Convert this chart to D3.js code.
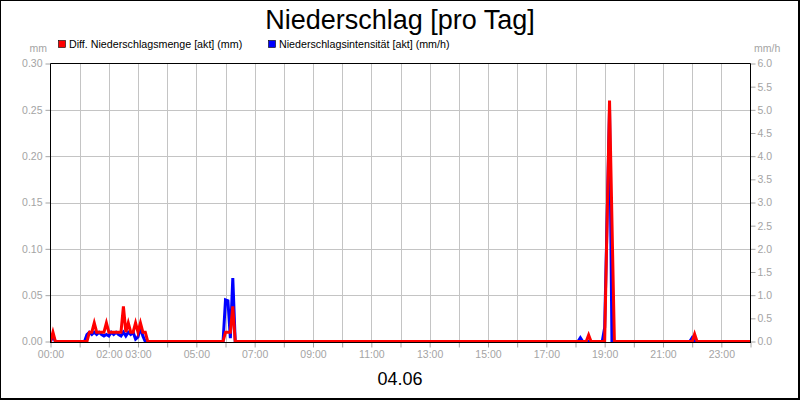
<!DOCTYPE html>
<html>
<head>
<meta charset="utf-8">
<script src="https://cdn.jsdelivr.net/npm/d3@7"></script>
<style>
  body { margin: 0; background: #fff; }
  svg { display: block; font-family: "Liberation Sans", Arial, sans-serif; }
</style>
</head>
<body>
<svg id="chart" width="800" height="400"></svg>
<script>
// ---- data ----
const title = "Niederschlag [pro Tag]";
const dateLabel = "04.06";
const seriesNames = ["Diff. Niederschlagsmenge [akt] (mm)", "Niederschlagsintensität [akt] (mm/h)"];

const rainTimes = ["00:00","00:05","00:10","01:15","01:20","01:25","01:30","01:35","01:40","01:45","01:50","01:55",
  "02:00","02:05","02:10","02:15","02:20","02:25","02:30","02:35","02:40","02:45","02:50","02:55",
  "03:00","03:05","03:10","03:15","03:20","05:55","06:00","06:05","06:10","06:15","06:20",
  "18:22","18:27","18:32","19:00","19:10","19:20","22:00","22:05","22:10","24:00"];
const rainValues = [0,0.01,0,0,0.01,0.01,0.02,0.01,0.01,0.01,0.01,0.02,
  0.01,0.01,0.01,0.01,0.01,0.01,0.038,0.01,0.02,0.01,0.01,0.02,
  0.01,0.02,0.01,0.01,0,0,0.01,0.01,0.01,0.038,0,
  0,0.007,0,0,0.26,0,0,0.008,0,0];

const intensTimes = ["00:00","00:05","00:10","01:10","01:15","01:20","01:25","01:30","01:35","01:40","01:45","01:50","01:55",
  "02:00","02:05","02:10","02:15","02:20","02:25","02:30","02:35","02:40","02:45","02:50","02:55",
  "03:00","03:05","03:10","03:15","05:55","06:00","06:05","06:10","06:15","06:20",
  "18:05","18:10","18:15","18:55","19:00","19:10","19:15","21:55","22:00","22:05","24:00"];
const intensValues = [0,0.12,0,0,0.15,0.2,0.15,0.2,0.15,0.2,0.15,0.12,0.15,
  0.12,0.2,0.15,0.2,0.15,0.12,0.2,0.12,0.2,0.15,0.2,0.05,
  0.1,0.3,0.12,0,0,0.9,0.88,0.07,1.37,0,
  0,0.08,0,0,0.3,5.0,0,0,0.08,0,0];

const xTickLabels = ["00:00","02:00","03:00","05:00","07:00","09:00","11:00","13:00","15:00","17:00","19:00","21:00","23:00"];
const leftTicks = [0,0.05,0.10,0.15,0.20,0.25,0.30];
const rightTicks = [0,0.5,1,1.5,2,2.5,3,3.5,4,4.5,5,5.5,6];
const hourTicks = d3.range(0, 25);

// ---- helpers ----
const toMin = s => { const [h, m] = s.split(":").map(Number); return h * 60 + m; };

const svg = d3.select("#chart");
const W = 800, H = 400;
const L = 50.5, R = 750.5, T = 63.5, B = 342;
const gray = "#a4a4a4";

const x = d3.scaleLinear().domain([0, 1440]).range([L, R]);
const yL = d3.scaleLinear().domain([0, 0.30]).range([B - 0.5, T]);
const yR = d3.scaleLinear().domain([0, 6]).range([B - 0.5, T]);

// outer border
svg.append("rect").attr("x", 0.5).attr("y", 0.5).attr("width", 798).attr("height", 398)
  .attr("fill", "#fff").attr("stroke", "#000").attr("stroke-width", 1);
svg.append("line").attr("x1", 799).attr("x2", 799).attr("y1", 0).attr("y2", 400).attr("stroke", "#000").attr("stroke-width", 2);
svg.append("line").attr("x1", 0).attr("x2", 800).attr("y1", 399).attr("y2", 399).attr("stroke", "#000").attr("stroke-width", 2);

// title
svg.append("text").attr("x", 400).attr("y", 29).attr("text-anchor", "middle")
  .attr("font-size", 27).attr("fill", "#000").text(title);

// legend
const legendX = [58, 268];
seriesNames.forEach((n, i) => {
  svg.append("rect").attr("x", legendX[i] + 0.5).attr("y", 40.5).attr("width", 7).attr("height", 7)
    .attr("fill", i === 0 ? "#ff0000" : "#0000ff").attr("stroke", "#000").attr("stroke-width", 0.6);
  svg.append("text").attr("x", legendX[i] + 11).attr("y", 48).attr("font-size", 10.7)
    .attr("fill", "#000").text(n);
});

// unit labels
svg.append("text").attr("x", 47).attr("y", 52).attr("text-anchor", "end").attr("font-size", 10.5).attr("fill", gray).text("mm");
svg.append("text").attr("x", 754).attr("y", 52).attr("text-anchor", "start").attr("font-size", 10.5).attr("fill", gray).text("mm/h");

// grid
const grid = svg.append("g").attr("stroke", "#c4c4c4").attr("stroke-width", 1);
grid.selectAll("line.v").data(hourTicks.slice(1, 24)).join("line")
  .attr("x1", d => Math.round(x(d * 60)) + 0.5).attr("x2", d => Math.round(x(d * 60)) + 0.5)
  .attr("y1", T).attr("y2", B);
grid.selectAll("line.h").data(leftTicks.slice(1, 6)).join("line")
  .attr("x1", L).attr("x2", R)
  .attr("y1", d => Math.round(yL(d)) + 0.5).attr("y2", d => Math.round(yL(d)) + 0.5);

// axes
const styleAxis = g => {
  g.select(".domain").remove();
  g.selectAll(".tick line").attr("stroke", gray);
  g.selectAll(".tick text").attr("fill", gray).attr("font-size", 10.5)
    .attr("font-family", '"Liberation Sans", Arial, sans-serif');
};
svg.append("g").attr("transform", `translate(${L},0)`)
  .call(d3.axisLeft(yL).tickValues(leftTicks).tickFormat(d3.format(".2f")).tickSize(5).tickPadding(3))
  .call(styleAxis);
svg.append("g").attr("transform", `translate(${R},0)`)
  .call(d3.axisRight(yR).tickValues(rightTicks).tickFormat(d3.format(".1f")).tickSize(5).tickPadding(2))
  .call(styleAxis);
const labelSet = new Set(xTickLabels.map(toMin));
svg.append("g").attr("transform", `translate(0,${B + 0.5})`)
  .call(d3.axisBottom(x).tickValues(hourTicks.map(h => h * 60)).tickSize(5).tickPadding(3)
    .tickFormat(d => labelSet.has(d) ? xTickLabels[xTickLabels.map(toMin).indexOf(d)] : ""))
  .call(styleAxis);

// clip
svg.append("clipPath").attr("id", "plotclip").append("rect")
  .attr("x", L).attr("y", T - 5).attr("width", R - L).attr("height", B - T + 7);

const lineRain = d3.line().x(d => x(toMin(d[0]))).y(d => yL(d[1]));
const lineInt = d3.line().x(d => x(toMin(d[0]))).y(d => yR(d[1]));

const plot = svg.append("g").attr("clip-path", "url(#plotclip)");
plot.append("path").datum(intensTimes.map((t, i) => [t, intensValues[i]]))
  .attr("d", lineInt).attr("fill", "none").attr("stroke", "#0000ff").attr("stroke-width", 3);
plot.append("path").datum(rainTimes.map((t, i) => [t, rainValues[i]]))
  .attr("d", lineRain).attr("fill", "none").attr("stroke", "#ff0000").attr("stroke-width", 3);

// frame
svg.append("line").attr("x1", L).attr("x2", R).attr("y1", T).attr("y2", T).attr("stroke", "#000");
svg.append("line").attr("x1", L).attr("x2", L).attr("y1", T).attr("y2", B + 1).attr("stroke", "#000");
svg.append("line").attr("x1", R).attr("x2", R).attr("y1", T).attr("y2", B + 1).attr("stroke", "#000");
svg.append("line").attr("x1", L).attr("x2", R).attr("y1", B + 0.5).attr("y2", B + 0.5).attr("stroke", "#000");

// date label
svg.append("text").attr("x", 400).attr("y", 385).attr("text-anchor", "middle")
  .attr("font-size", 18).attr("fill", "#000").text(dateLabel);
</script>
</body>
</html>
